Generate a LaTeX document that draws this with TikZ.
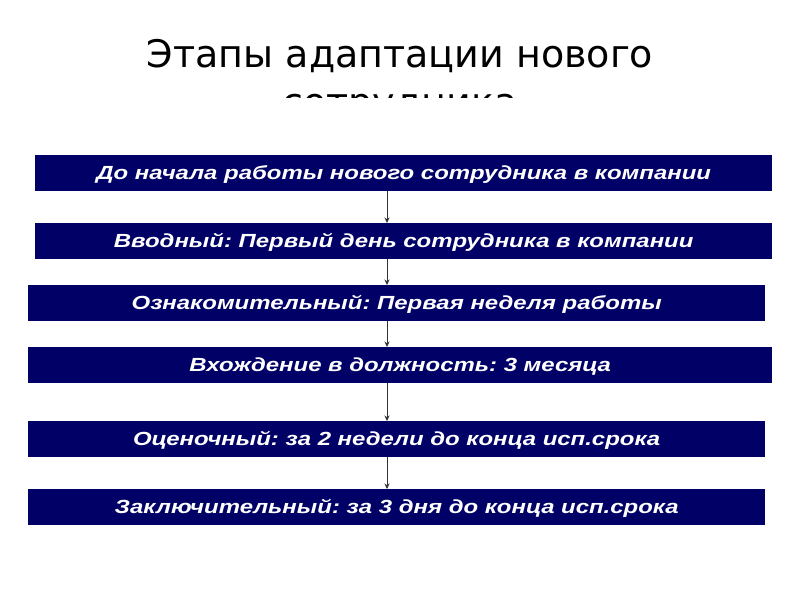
\documentclass[tikz,border=0pt]{standalone}
\usepackage{fontspec}
\usepackage{tikz}
\usetikzlibrary{arrows.meta}
\newfontfamily\titlefont{DejaVu Sans}
\newfontfamily\stagefont{Liberation Sans}[FakeStretch=1.26]
\definecolor{navy}{RGB}{0,0,102}
\frenchspacing

\begin{document}
\begin{tikzpicture}[
		x=1pt, y=-1pt,
		stage/.style={anchor=north west, fill=navy, text=white, inner sep=0pt,
			minimum height=35.5pt, text height=13.5pt, text depth=0pt,
			font=\stagefont\bfseries\itshape\fontsize{19}{22}\selectfont},
		flow/.style={draw=black!80, line width=0.6pt, -{Stealth[length=5.5pt, width=5pt]}}
	]
  \useasboundingbox (0,0) rectangle (800,600);
  \begin{scope}
    \clip (0,0) rectangle (800,97);
    \node (title) [anchor=base, align=center, inner sep=0pt,
      font=\titlefont\fontsize{38}{48}\selectfont] at (400,115)
      {Этапы адаптации нового\\сотрудника};
  \end{scope}
  \node (s1) [stage, minimum width=737pt] at (35,155) {До начала работы нового сотрудника в компании};
  \node (s2) [stage, minimum width=737pt] at (35,223) {Вводный: Первый день сотрудника в компании};
  \node (s3) [stage, minimum width=737pt] at (28,285) {Ознакомительный: Первая неделя работы};
  \node (s4) [stage, minimum width=744pt] at (28,347) {Вхождение в должность: 3 месяца};
  \node (s5) [stage, minimum width=737pt] at (28,421) {Оценочный: за 2 недели до конца исп.срока};
  \node (s6) [stage, minimum width=737pt] at (28,489) {Заключительный: за 3 дня до конца исп.срока};
  \coordinate (ax) at (387,0);
  \draw [flow] (s1.south -| ax) -- (s2.north -| ax);
  \draw [flow] (s2.south -| ax) -- (s3.north -| ax);
  \draw [flow] (s3.south -| ax) -- (s4.north -| ax);
  \draw [flow] (s4.south -| ax) -- (s5.north -| ax);
  \draw [flow] (s5.south -| ax) -- (s6.north -| ax);
\end{tikzpicture}
\end{document}
